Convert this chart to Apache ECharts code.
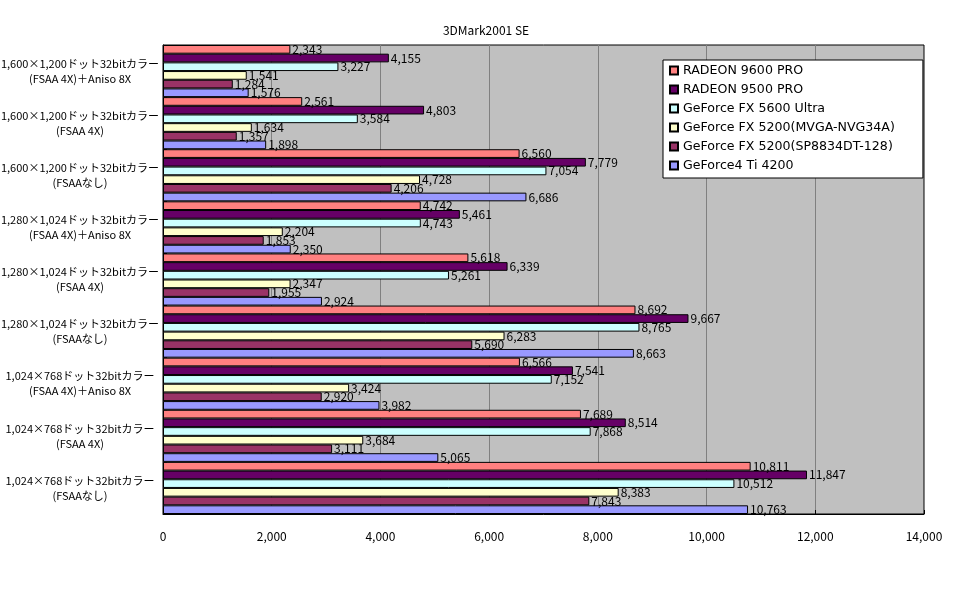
<!DOCTYPE html>
<html>
<head>
<meta charset="utf-8">
<script src="https://cdn.jsdelivr.net/npm/echarts@6/dist/echarts.min.js"></script>
<style>
html, body { margin: 0; padding: 0; background: #fff; }
#chart { width: 972px; height: 604px; }
</style>
</head>
<body>
<div id="chart"></div>
<script>
// categories, top to bottom
var categories = [
  '1,600×1,200ドット32bitカラー\n(FSAA 4X)＋Aniso 8X',
  '1,600×1,200ドット32bitカラー\n(FSAA 4X)',
  '1,600×1,200ドット32bitカラー\n(FSAAなし)',
  '1,280×1,024ドット32bitカラー\n(FSAA 4X)＋Aniso 8X',
  '1,280×1,024ドット32bitカラー\n(FSAA 4X)',
  '1,280×1,024ドット32bitカラー\n(FSAAなし)',
  '1,024×768ドット32bitカラー\n(FSAA 4X)＋Aniso 8X',
  '1,024×768ドット32bitカラー\n(FSAA 4X)',
  '1,024×768ドット32bitカラー\n(FSAAなし)'
];

var seriesNames = [
  'RADEON 9600 PRO',
  'RADEON 9500 PRO',
  'GeForce FX 5600 Ultra',
  'GeForce FX 5200(MVGA-NVG34A)',
  'GeForce FX 5200(SP8834DT-128)',
  'GeForce4 Ti 4200'
];

var colors = ['#FF8080', '#660066', '#CCFFFF', '#FFFFCC', '#993366', '#9999FF'];

var radeon9600 = [2343, 2561, 6560, 4742, 5618, 8692, 6566, 7689, 10811];
var radeon9500 = [4155, 4803, 7779, 5461, 6339, 9667, 7541, 8514, 11847];
var fx5600u    = [3227, 3584, 7054, 4743, 5261, 8765, 7152, 7868, 10512];
var fx5200mvga = [1541, 1634, 4728, 2204, 2347, 6283, 3424, 3684, 8383];
var fx5200sp   = [1284, 1357, 4206, 1853, 1955, 5690, 2920, 3111, 7843];
var gf4ti4200  = [1576, 1898, 6686, 2350, 2924, 8663, 3982, 5065, 10763];

var seriesData = [radeon9600, radeon9500, fx5600u, fx5200mvga, fx5200sp, gf4ti4200];

var font = '"Noto Sans CJK JP", "Noto Sans", sans-serif';

var chart = echarts.init(document.getElementById('chart'));

var option = {
  animation: false,
  backgroundColor: '#fff',
  title: {
    text: '3DMark2001 SE',
    left: 'center',
    top: 19,
    textStyle: { fontFamily: font, fontSize: 12, fontWeight: 'normal', color: '#000' }
  },
  legend: {
    orient: 'vertical',
    left: 663,
    top: 60,
    backgroundColor: '#fff',
    borderColor: '#000',
    borderWidth: 1,
    padding: [1, 28, 3, 6],
    itemWidth: 8,
    itemHeight: 8,
    itemGap: 0,
    icon: 'rect',
    textStyle: { fontFamily: '"DejaVu Sans", sans-serif', fontSize: 12.6, color: '#000', lineHeight: 19 },
    data: seriesNames
  },
  grid: {
    left: 163,
    right: 48,
    top: 45,
    bottom: 90,
    outerBoundsMode: 'none',
    containLabel: false,
    show: true,
    backgroundColor: '#C0C0C0',
    borderColor: '#000',
    borderWidth: 1
  },
  xAxis: {
    type: 'value',
    min: 0,
    max: 14000,
    interval: 2000,
    axisLine: { show: true, lineStyle: { color: '#000' } },
    axisTick: { show: true, inside: true, length: 4, lineStyle: { color: '#000' } },
    splitLine: { show: true, lineStyle: { color: '#808080', width: 1 } },
    axisLabel: {
      margin: 16,
      fontFamily: font,
      fontSize: 12,
      color: '#000',
      formatter: function (v) { return v.toLocaleString('en-US'); }
    }
  },
  yAxis: {
    type: 'category',
    inverse: true,
    data: categories,
    axisLine: { show: true, lineStyle: { color: '#000' } },
    axisTick: { show: true, inside: true, length: 4, lineStyle: { color: '#000' } },
    axisLabel: {
      align: 'center',
      margin: 83,
      fontFamily: font,
      fontSize: 11,
      lineHeight: 15,
      color: '#000'
    }
  },
  series: seriesNames.map(function (name, i) {
    return {
      name: name,
      type: 'bar',
      barGap: 0,
      barCategoryGap: 0,
      data: seriesData[i],
      itemStyle: { color: colors[i], borderColor: '#000', borderWidth: 1 },
      label: {
        show: true,
        position: 'right',
        distance: 2,
        fontFamily: font,
        fontSize: 12,
        color: '#000',
        formatter: function (p) { return p.value.toLocaleString('en-US'); }
      }
    };
  })
};

chart.setOption(option);
</script>
</body>
</html>
